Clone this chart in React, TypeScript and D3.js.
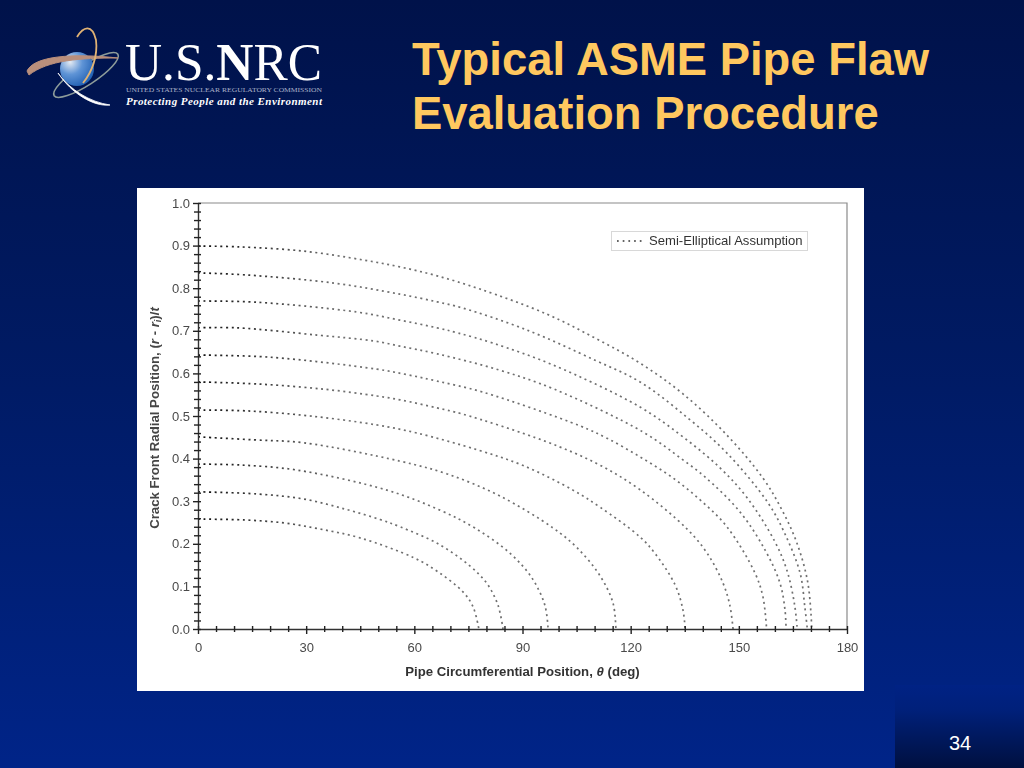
import { useEffect, useRef } from "react";
import * as d3 from "d3";

const theta1 = [0, 11.6, 29.4, 46, 56, 66.3, 78.2, 96.8, 110.1, 122.6, 134.5, 146.7, 156.7, 162, 166.1, 169, 170, 170.2];
const front1 = [0.899, 0.897, 0.887, 0.866, 0.85, 0.829, 0.798, 0.739, 0.683, 0.624, 0.552, 0.455, 0.354, 0.279, 0.202, 0.115, 0.038, 0];
const theta2 = [0, 13.6, 37.7, 56, 66.3, 73.2, 91.2, 110.1, 122.6, 135.9, 146.7, 158.1, 162.8, 167, 168.3, 169];
const front2 = [0.836, 0.831, 0.812, 0.786, 0.768, 0.754, 0.702, 0.631, 0.58, 0.495, 0.413, 0.296, 0.223, 0.131, 0.052, 0];
const theta3 = [0, 16.4, 44.1, 56, 66.3, 72.1, 81.8, 98.4, 122.6, 134.5, 144.8, 152.3, 160, 163.4, 165.5, 166.2];
const front3 = [0.77, 0.767, 0.744, 0.725, 0.707, 0.695, 0.671, 0.62, 0.521, 0.451, 0.378, 0.308, 0.205, 0.136, 0.055, 0];
const theta4 = [0, 10.8, 33, 48.8, 56, 66.3, 83.5, 98.8, 123.5, 134.5, 140.6, 150.3, 157.3, 161.4, 162.8, 163.1];
const front4 = [0.707, 0.707, 0.69, 0.676, 0.664, 0.646, 0.608, 0.563, 0.462, 0.397, 0.357, 0.275, 0.185, 0.108, 0.045, 0];
const theta5 = [0, 20, 49.6, 58, 66.3, 79, 105.9, 113.4, 122.6, 131.5, 139.4, 146.7, 154.5, 156.7, 157.7];
const front5 = [0.643, 0.638, 0.61, 0.597, 0.582, 0.556, 0.477, 0.448, 0.404, 0.356, 0.302, 0.24, 0.131, 0.075, 0];
const theta6 = [0, 16.9, 34.9, 49.6, 56, 66.3, 73.2, 96.2, 110.7, 122.6, 135.6, 141.2, 145.6, 147.5, 148.4];
const front6 = [0.58, 0.575, 0.563, 0.547, 0.538, 0.519, 0.505, 0.441, 0.388, 0.327, 0.235, 0.178, 0.108, 0.056, 0];
const theta7 = [0, 13.6, 31.1, 49.6, 60.7, 77.7, 90.4, 104, 111.5, 122.6, 126.7, 132.3, 134.5, 135.1];
const front7 = [0.514, 0.512, 0.5, 0.479, 0.46, 0.42, 0.383, 0.326, 0.286, 0.216, 0.178, 0.104, 0.045, 0];
const theta8 = [0, 15.5, 29.4, 56, 69.1, 83.8, 98.5, 105.1, 111.5, 115.1, 115.9];
const front8 = [0.451, 0.444, 0.437, 0.394, 0.364, 0.312, 0.237, 0.191, 0.125, 0.061, 0];
const theta9 = [0, 11.6, 27.5, 52.4, 67.1, 76.8, 86.5, 92.6, 96.2, 97.1];
const front9 = [0.387, 0.385, 0.373, 0.326, 0.279, 0.237, 0.178, 0.12, 0.056, 0];
const theta10 = [0, 16.4, 29.4, 41, 50.5, 56, 66.6, 75.4, 80.2, 83.2, 84.6];
const front10 = [0.322, 0.317, 0.305, 0.281, 0.257, 0.24, 0.2, 0.148, 0.106, 0.056, 0];
const theta11 = [0, 12.8, 23.9, 33.6, 44.9, 59.9, 66.6, 73.5, 76.3, 77.9];
const front11 = [0.258, 0.256, 0.249, 0.235, 0.214, 0.167, 0.134, 0.087, 0.052, 0];

const thetas = [theta1, theta2, theta3, theta4, theta5, theta6, theta7, theta8, theta9, theta10, theta11];
const fronts = [front1, front2, front3, front4, front5, front6, front7, front8, front9, front10, front11];

const xMajor = [0, 30, 60, 90, 120, 150, 180];
const yMajor = [0, 0.1, 0.2, 0.3, 0.4, 0.5, 0.6, 0.7, 0.8, 0.9, 1];

const serif = "'Liberation Serif', serif";
const sans = "'Liberation Sans', Arial, sans-serif";

export default function App() {
  const plotRef = useRef<SVGGElement>(null);

  useEffect(() => {
    if (!plotRef.current) return;
    const g = d3.select(plotRef.current);
    g.selectAll("*").remove();

    const x = d3.scaleLinear().domain([0, 180]).range([198, 847]);
    const y = d3.scaleLinear().domain([0, 1]).range([629, 203]);

    // Frame on the top and right
    g.append("path")
      .attr("d", `M${x(0)},${y(1)}H${x(180)}V${y(0)}`)
      .attr("fill", "none")
      .attr("stroke", "#8a8a8a")
      .attr("stroke-width", 1.2);

    // Crack fronts
    const line = d3
      .line<[number, number]>()
      .x((d) => x(d[0]))
      .y((d) => y(d[1]))
      .curve(d3.curveCatmullRom.alpha(0.5));

    fronts.forEach((front, i) => {
      const pts = front.map((v, j) => [thetas[i][j], v] as [number, number]);
      g.append("path")
        .attr("d", line(pts))
        .attr("fill", "none")
        .attr("stroke", "url(#frontStroke)")
        .attr("stroke-width", 1.7)
        .attr("stroke-dasharray", "2 3.6");
    });

    // Axes: ticks cross the axis line
    const xAxis = g
      .append("g")
      .attr("transform", `translate(0,${y(0)})`)
      .call(
        d3
          .axisBottom(x)
          .tickValues(d3.range(0, 181, 5))
          .tickSizeOuter(0)
          .tickFormat((d) => (xMajor.includes(+d) ? String(d) : ""))
      );
    xAxis.selectAll("line")
      .attr("y1", -3)
      .attr("y2", (d) => (xMajor.includes(+(d as number)) ? 5 : 3));
    xAxis.selectAll("text").attr("y", 14).attr("dy", "0.71em");

    const yAxis = g
      .append("g")
      .attr("transform", `translate(${x(0)},0)`)
      .call(
        d3
          .axisLeft(y)
          .tickValues(d3.range(0, 51).map((d) => d / 50))
          .tickSizeOuter(0)
          .tickFormat((d) => (yMajor.some((t) => Math.abs(t - +d) < 1e-6) ? d3.format(".1f")(+d) : ""))
      );
    yAxis.selectAll("line")
      .attr("x1", 3)
      .attr("x2", (d) => (yMajor.some((t) => Math.abs(t - +(d as number)) < 1e-6) ? -5 : -4));
    yAxis.selectAll("text").attr("x", -8);

    g.selectAll(".domain").attr("stroke", "#333").attr("stroke-width", 1.4);
    g.selectAll(".tick line").attr("stroke", "#222").attr("stroke-width", 1.4);
    g.selectAll(".tick text")
      .attr("fill", "#4a4a4a")
      .style("font-family", sans)
      .style("font-size", "13px");
  }, []);

  return (
    <svg width={1024} height={768} style={{ position: "absolute", left: 0, top: 0, display: "block" }}>
      <defs>
        <linearGradient id="bg" x1="0" y1="0" x2="0" y2="1">
          <stop offset="0" stopColor="#00124a" />
          <stop offset="0.45" stopColor="#001a62" />
          <stop offset="1" stopColor="#002488" />
        </linearGradient>
        <linearGradient id="corner" x1="0" y1="0" x2="0" y2="1">
          <stop offset="0" stopColor="#002284" />
          <stop offset="0.3" stopColor="#00207a" />
          <stop offset="1" stopColor="#00103f" />
        </linearGradient>
        <linearGradient id="frontStroke" gradientUnits="userSpaceOnUse" x1="198" y1="0" x2="340" y2="0">
          <stop offset="0" stopColor="#111" />
          <stop offset="1" stopColor="#707070" />
        </linearGradient>
        <radialGradient id="globe" cx="0.3" cy="0.3" r="0.8">
          <stop offset="0" stopColor="#e4eaf2" />
          <stop offset="0.45" stopColor="#5f94d6" />
          <stop offset="1" stopColor="#1c5cb0" />
        </radialGradient>
        <filter id="soft" x="0" y="0" width="1" height="1">
          <feGaussianBlur stdDeviation="0.45" />
        </filter>
      </defs>

      <rect width={1024} height={768} fill="url(#bg)" />
      <rect x={895} y={685} width={129} height={83} fill="url(#corner)" />

      {/* NRC logo */}
      <g>
        <ellipse cx={86} cy={75} rx={38} ry={10} fill="none" stroke="#8d9c9a" strokeWidth={1.6} transform="rotate(-33 86 75)" />
        <circle cx={77} cy={69} r={17} fill="url(#globe)" />
        <path d="M27,71C34,56 72,53 118,58C80,58 48,60 29,75Z" fill="#b98f7c" stroke="#b98f7c" strokeWidth={1} />
        <path d="M77,37C83,27 92,23 96,40C98,56 92,72 83,83" fill="none" stroke="#e0b274" strokeWidth={1.8} />
        <path d="M58,73C70,90 90,102 110,105C94,107 72,94 58,73Z" fill="#fff" stroke="#fff" strokeWidth={0.8} />
        <text x={125} y={80} fill="#fff" fontFamily={serif} fontSize={53} textLength={197} lengthAdjust="spacingAndGlyphs">
          U.S.<tspan fontWeight="bold">N</tspan>RC
        </text>
        <text x={126} y={92} fill="#aab2c8" fontFamily={serif} fontSize={7} textLength={196} lengthAdjust="spacingAndGlyphs">
          UNITED STATES NUCLEAR REGULATORY COMMISSION
        </text>
        <text x={126} y={105} fill="#fff" fontFamily={serif} fontSize={11} fontStyle="italic" fontWeight="bold" textLength={196}>
          Protecting People and the Environment
        </text>
      </g>

      {/* Title */}
      <g fill="#ffc85f" fontFamily={sans} fontSize={45.4} fontWeight="bold">
        <text x={412} y={75}>Typical ASME Pipe Flaw</text>
        <text x={412} y={129}>Evaluation Procedure</text>
      </g>

      {/* Chart panel */}
      <rect x={137} y={188} width={727} height={503} fill="#fff" />
      <g filter="url(#soft)">
        <g ref={plotRef} />
        <rect x={611.5} y={231.5} width={196} height={19} fill="#fff" stroke="#d8d8d8" />
        <line x1={617} x2={643} y1={241} y2={241} stroke="#333" strokeWidth={1.7} strokeDasharray="1.7 4" />
        <text x={649} y={245} fill="#333" fontFamily={sans} fontSize={13.1}>Semi-Elliptical Assumption</text>
        <text x={522.5} y={676} textAnchor="middle" fill="#333" fontFamily={sans} fontSize={13.2} fontWeight="bold">
          Pipe Circumferential Position, <tspan fontStyle="italic">θ</tspan> (deg)
        </text>
        <text transform="translate(159,418) rotate(-90)" textAnchor="middle" fill="#444" fontFamily={sans} fontSize={13.2} fontWeight="bold">
          Crack Front Radial Position, (<tspan fontStyle="italic">r</tspan> - <tspan fontStyle="italic">r</tspan><tspan fontSize={9} dy={2} fontStyle="italic">i</tspan><tspan dy={-2}>)/</tspan><tspan fontStyle="italic">t</tspan>
        </text>
      </g>

      <text x={949} y={750} fill="#fff" fontFamily={sans} fontSize={20}>34</text>
    </svg>
  );
}
